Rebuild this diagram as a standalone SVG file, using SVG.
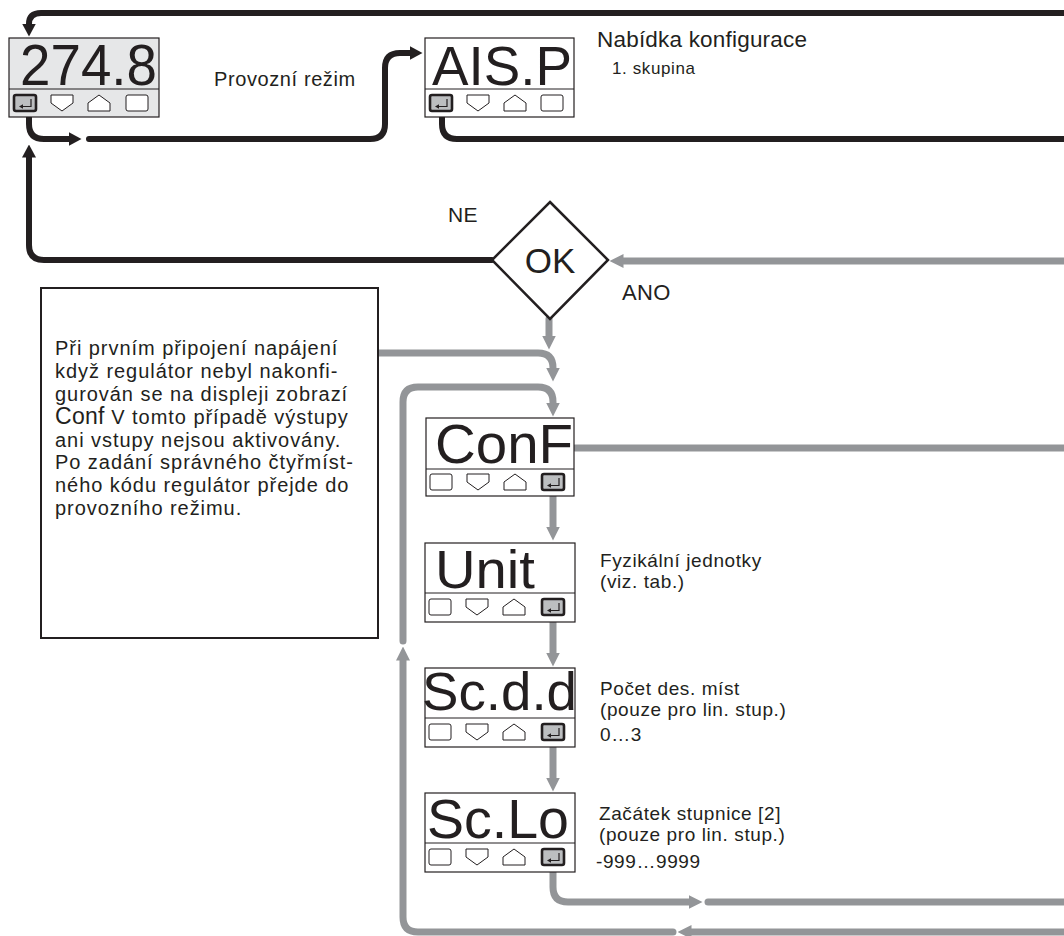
<svg xmlns="http://www.w3.org/2000/svg" width="1064" height="936" viewBox="0 0 1064 936">
<style>
.bk{fill:none;stroke:#231f20;stroke-width:6;stroke-linecap:round;stroke-linejoin:round}
.gy{fill:none;stroke:#939598;stroke-width:7;stroke-linecap:round;stroke-linejoin:round}
.box{fill:#ffffff;stroke:#231f20;stroke-width:1.2}
.key{fill:#ffffff;stroke:#231f20;stroke-width:1}
.big{font-family:"Liberation Sans",Arial,sans-serif;font-size:56px;fill:#231f20}
.lbl{font-family:"Liberation Sans",Arial,sans-serif;font-size:19px;letter-spacing:0.6px;fill:#231f20}
.txt{font-family:"Liberation Sans",Arial,sans-serif;font-size:20px;letter-spacing:0.95px;fill:#231f20}
</style>
<defs>
<marker id="ab" viewBox="0 0 13 14" markerWidth="13" markerHeight="14" refX="0.5" refY="7" orient="auto" markerUnits="userSpaceOnUse"><path d="M0,0 L13,7 L0,14 z" fill="#231f20"/></marker>
<marker id="ag" viewBox="0 0 14 14" markerWidth="14" markerHeight="14" refX="0.5" refY="7" orient="auto" markerUnits="userSpaceOnUse"><path d="M0,0 L14,7 L0,14 z" fill="#939598"/></marker>
<rect id="kRect" x="0" y="0" width="22" height="16" rx="2" class="key"/>
<polygon id="kDown" points="0,0 22,0 22,8 11,16 0,8" class="key"/>
<polygon id="kUp" points="11,0 22,8 22,16 0,16 0,8" class="key"/>
<g id="kEnter"><rect x="0" y="0" width="22" height="16" rx="2" fill="#bcbec0" stroke="#231f20" stroke-width="2.6"/><path d="M17,4 V11.5 H8" fill="none" stroke="#231f20" stroke-width="1.2"/><path d="M5,11.5 L9,9.3 L9,13.7 z" fill="#231f20"/></g>
</defs>

<g id="connectors">
<path class="bk" d="M1064,13 H41 Q29,13 29,24" marker-end="url(#ab)"/>
<path class="bk" d="M29,111 V124 Q29,139 44,139 H69" marker-end="url(#ab)"/>
<path class="bk" d="M89,139 H370 Q385,139 385,124 V68 Q385,53 400,53 H410" marker-end="url(#ab)"/>
<path class="bk" d="M442,111 V124 Q442,139 457,139 H1066"/>
<path class="bk" d="M492,260 H44 Q29,260 29,245 V157" marker-end="url(#ab)"/>
<path class="gy" d="M1066,261 H623" marker-end="url(#ag)"/>
<path class="gy" d="M549,319 V336" marker-end="url(#ag)"/>
<path class="gy" d="M378,353 H538 Q553,353 553,368" marker-end="url(#ag)"/>
<path class="gy" d="M403,641 V402 Q403,387 418,387 H538 Q553,387 553,402 V403" marker-end="url(#ag)"/>
<path class="gy" d="M673,932 H418 Q403,932 403,917 V660" marker-end="url(#ag)"/>
<path class="gy" d="M1066,932 H691" marker-end="url(#ag)"/>
<path class="gy" d="M575,448 H1066"/>
<path class="gy" d="M553,491 V527" marker-end="url(#ag)"/>
<path class="gy" d="M553,615 V653" marker-end="url(#ag)"/>
<path class="gy" d="M553,740 V778" marker-end="url(#ag)"/>
<path class="gy" d="M553,865 V887 Q553,902 568,902 H689" marker-end="url(#ag)"/>
<path class="gy" d="M708,902 H1066"/>
</g>

<g id="node-display-2748">
<rect x="9" y="38" width="150" height="79" class="box" style="fill:#e6e7e8"/>
<line x1="9" y1="89" x2="159" y2="89" stroke="#231f20" stroke-width="1"/>
<text x="20" y="85" class="big" style="font-size:58px" textLength="137" lengthAdjust="spacingAndGlyphs">274.8</text>
<use href="#kEnter" x="14" y="95"/>
<use href="#kDown" x="51" y="95"/>
<use href="#kUp" x="88" y="95"/>
<use href="#kRect" x="126" y="95"/>
</g>
<g id="label-provozni">
<text x="214" y="86" class="lbl" style="font-size:20px">Provozní režim</text>
</g>

<g id="node-display-aisp">
<rect x="425" y="38" width="149" height="79" class="box"/>
<line x1="425" y1="89" x2="574" y2="89" stroke="#231f20" stroke-width="1"/>
<text x="432" y="85" class="big" textLength="140" lengthAdjust="spacingAndGlyphs">AIS.P</text>
<use href="#kEnter" x="430" y="95"/>
<use href="#kDown" x="467" y="95"/>
<use href="#kUp" x="504" y="95"/>
<use href="#kRect" x="541" y="95"/>
</g>
<g id="label-nabidka">
<text x="597" y="47" class="lbl" style="font-size:22.5px;letter-spacing:0.2px">Nabídka konfigurace</text>
<text x="612" y="74" class="lbl" style="font-size:17px">1. skupina</text>
</g>

<g id="node-decision-ok">
<polygon points="550,202 608,260 550,319 492,260" fill="#ffffff" stroke="#231f20" stroke-width="2.5"/>
<text x="550" y="273" class="lbl" style="font-size:35px;letter-spacing:0" text-anchor="middle">OK</text>
</g>
<g id="label-ne"><text x="448" y="222" class="lbl" style="font-size:21px;letter-spacing:0.3px">NE</text></g>
<g id="label-ano"><text x="622" y="300" class="lbl" style="font-size:22px;letter-spacing:0.3px">ANO</text></g>

<g id="node-note">
<rect x="41" y="288" width="337" height="350" fill="#ffffff" stroke="#231f20" stroke-width="2"/>
<text class="txt" x="55" y="355">Při prvním připojení napájení</text>
<text class="txt" x="55" y="377.8">když regulátor nebyl nakonfi-</text>
<text class="txt" x="55" y="400.6">gurován se na displeji zobrazí</text>
<text class="txt" x="55" y="424"><tspan style="font-size:23px;letter-spacing:0.3px">Conf</tspan> V tomto případě výstupy</text>
<text class="txt" x="55" y="446.6">ani vstupy nejsou aktivovány.</text>
<text class="txt" x="55" y="469.2">Po zadání správného čtyřmíst-</text>
<text class="txt" x="55" y="491.8">ného kódu regulátor přejde do</text>
<text class="txt" x="55" y="514.6">provozního režimu.</text>
</g>

<g id="node-display-conf">
<rect x="426" y="418" width="148" height="78" class="box"/>
<line x1="426" y1="469" x2="574" y2="469" stroke="#231f20" stroke-width="1"/>
<text x="435" y="463" class="big" textLength="138" lengthAdjust="spacingAndGlyphs">ConF</text>
<use href="#kRect" x="430" y="474"/>
<use href="#kDown" x="467" y="474"/>
<use href="#kUp" x="504" y="474"/>
<use href="#kEnter" x="542" y="474"/>
</g>

<g id="node-display-unit">
<rect x="425" y="543" width="150" height="79" class="box"/>
<line x1="425" y1="593" x2="575" y2="593" stroke="#231f20" stroke-width="1"/>
<text x="435" y="588" class="big" style="font-size:53px" textLength="100" lengthAdjust="spacingAndGlyphs">Unit</text>
<use href="#kRect" x="429" y="599"/>
<use href="#kDown" x="466" y="599"/>
<use href="#kUp" x="503" y="599"/>
<use href="#kEnter" x="542" y="599"/>
</g>
<g id="label-unit">
<text x="600" y="567" class="lbl">Fyzikální jednotky</text>
<text x="600" y="588" class="lbl">(viz. tab.)</text>
</g>

<g id="node-display-scdd">
<rect x="425" y="668" width="150" height="79" class="box"/>
<line x1="425" y1="718" x2="575" y2="718" stroke="#231f20" stroke-width="1"/>
<text x="422" y="710" class="big" style="font-size:53px" textLength="155" lengthAdjust="spacingAndGlyphs">Sc.d.d</text>
<use href="#kRect" x="429" y="724"/>
<use href="#kDown" x="466" y="724"/>
<use href="#kUp" x="503" y="724"/>
<use href="#kEnter" x="542" y="724"/>
</g>
<g id="label-scdd">
<text x="600" y="695" class="lbl">Počet des. míst</text>
<text x="600" y="716" class="lbl">(pouze pro lin. stup.)</text>
<text x="600" y="741" class="lbl">0…3</text>
</g>

<g id="node-display-sclo">
<rect x="425" y="793" width="150" height="79" class="box"/>
<line x1="425" y1="843" x2="575" y2="843" stroke="#231f20" stroke-width="1"/>
<text x="427" y="838" class="big" textLength="142" lengthAdjust="spacingAndGlyphs">Sc.Lo</text>
<use href="#kRect" x="429" y="849"/>
<use href="#kDown" x="466" y="849"/>
<use href="#kUp" x="503" y="849"/>
<use href="#kEnter" x="542" y="849"/>
</g>
<g id="label-sclo">
<text x="599" y="820" class="lbl">Začátek stupnice [2]</text>
<text x="599" y="841" class="lbl">(pouze pro lin. stup.)</text>
<text x="596" y="868" class="lbl">-999…9999</text>
</g>
</svg>
